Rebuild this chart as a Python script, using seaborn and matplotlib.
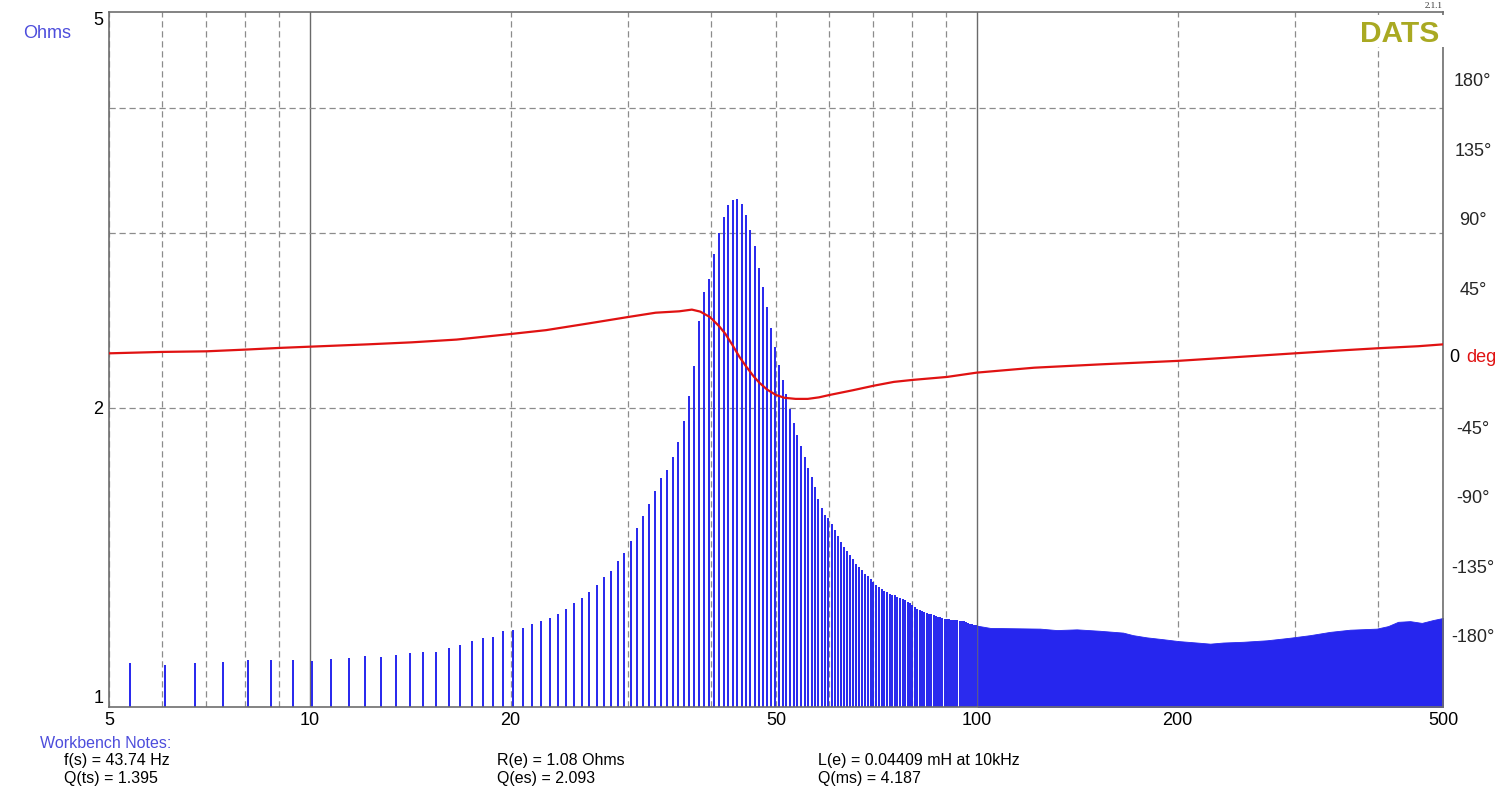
import numpy as np
import matplotlib
matplotlib.use("Agg")
import matplotlib.pyplot as plt
import matplotlib.transforms as mtransforms
import seaborn as sns
from matplotlib.ticker import FixedLocator, FuncFormatter, NullFormatter
from matplotlib.patches import Rectangle

# ---------------- data ----------------
bin_hz = 44100 / 65536            # FFT bin width of the measurement
stem_bins = np.arange(8, 149)     # bins drawn as individual stems (5.4 .. 99.6 Hz)
stem_ohms = [
    1.108, 1.103, 1.108, 1.111, 1.116, 1.116, 1.116, 1.113, 1.118, 1.121,
    1.126, 1.124, 1.129, 1.134, 1.137, 1.137, 1.147, 1.155, 1.166, 1.172,
    1.177, 1.192, 1.195,
    1.201, 1.213, 1.220, 1.228, 1.241, 1.254, 1.271, 1.286, 1.306, 1.327,
    1.351, 1.370, 1.403, 1.430, 1.468, 1.512, 1.557, 1.601, 1.648, 1.698,
    1.732, 1.783, 1.847, 1.938, 2.056, 2.205, 2.443, 2.612, 2.692, 2.855,
    2.998, 3.108, 3.200, 3.238, 3.245, 3.207, 3.126, 3.021, 2.905, 2.766,
    2.647, 2.525, 2.407, 2.302, 2.210, 2.130, 2.062, 1.992, 1.930, 1.877,
    1.829, 1.783, 1.741, 1.702, 1.665, 1.619,
    1.584, 1.560, 1.550, 1.526, 1.505, 1.485, 1.466, 1.449, 1.435, 1.422,
    1.408, 1.394, 1.384, 1.373, 1.362, 1.355, 1.346, 1.336, 1.328, 1.321,
    1.314, 1.309, 1.304, 1.300, 1.297, 1.295, 1.291, 1.288, 1.284, 1.280,
    1.276, 1.272, 1.266, 1.261, 1.256, 1.252, 1.249, 1.245, 1.242, 1.241,
    1.239, 1.237, 1.235, 1.233, 1.231, 1.229, 1.226, 1.225,
    1.225, 1.224, 1.223, 1.223, 1.222, 1.221, 1.220, 1.219, 1.217, 1.215,
    1.213, 1.211, 1.210, 1.208,
]
# above 100 Hz the bins are so dense they form a solid band
dense_hz = [100.3, 104.7, 124.4, 131.8, 141.2, 153.0, 165.7, 171.5, 179.8,
            190.2, 200.4, 213.7, 223.8, 234.1, 250.7, 272.1, 294.9, 315.9,
            338.5, 362.7, 397.8, 413.6, 428.1, 446.3, 464.7, 483.0, 500.0]
dense_ohms = [1.207, 1.201, 1.199, 1.195, 1.197, 1.193, 1.188, 1.181, 1.175,
              1.170, 1.165, 1.161, 1.158, 1.161, 1.163, 1.167, 1.174, 1.181,
              1.190, 1.196, 1.199, 1.206, 1.218, 1.220, 1.215, 1.223, 1.229]

phase_hz = [5.0, 6.0, 7.0, 8.0, 9.0, 10.0, 12.2, 14.2, 16.6, 20.0, 22.6, 26.3,
            30.0, 33.0, 35.8, 37.4, 38.5, 39.8, 41.1, 42.0, 43.0, 44.1, 45.1,
            46.3, 47.2, 48.5, 50.0, 51.5, 53.5, 55.8, 58.0, 60.1, 65.2, 70.2,
            75.1, 80.2, 90.2, 100.0, 122.0, 154.0, 200.0, 246.0, 300.0, 352.0,
            400.0, 459.0, 500.0]
phase_deg = [3.0, 3.9, 4.3, 5.4, 6.5, 7.3, 8.8, 10.1, 11.9, 15.5, 18.0, 22.5,
             26.5, 29.3, 30.2, 31.3, 30.0, 26.5, 20.5, 15.5, 8.5, 0.5, -5.5,
             -12.0, -16.0, -20.5, -24.0, -25.8, -26.5, -26.5, -25.5, -24.0,
             -20.9, -17.9, -15.5, -14.2, -12.3, -9.5, -6.3, -4.1, -1.9, 0.6,
             3.0, 4.9, 6.3, 7.6, 8.8]

x_label_ticks = [5, 10, 20, 50, 100, 200, 500]
x_major_grid = [10, 100]
x_minor_grid = [5, 6, 7, 8, 9, 20, 30, 40, 50, 60, 70, 80, 90, 200, 300, 400, 500]
y_label_ticks = [1, 2, 5]
y_grid = [2, 3, 4]
phase_ticks = [-180, -135, -90, -45, 0, 45, 90, 135, 180]

notes_title = "Workbench Notes:"
notes = [
    ("f(s) = 43.74 Hz", 64, 761), ("Q(ts) = 1.395", 64, 778),
    ("R(e) = 1.08 Ohms", 497, 761), ("Q(es) = 2.093", 497, 778),
    ("L(e) = 0.04409 mH at 10kHz", 818, 761), ("Q(ms) = 4.187", 818, 778),
]

# ---------------- style ----------------
sns.set_style("white")
plt.rcParams["font.family"] = ["Liberation Sans", "DejaVu Sans"]

BLUE = "#2626ee"
RED = "#e01212"
SPINE = "#6e6e6e"
W, H = 1500, 808

fig = plt.figure(figsize=(W / 100, H / 100), dpi=100)
ax = fig.add_axes([109 / W, 1 - 707 / H, 1334 / W, 695 / H])

ax.set_xscale("log")
ax.set_yscale("log")

# impedance stems
stem_hz = stem_bins * bin_hz
ax.vlines(stem_hz, 1, stem_ohms, colors=BLUE, linewidth=1.4, zorder=2)
ax.fill_between(dense_hz, 1, dense_ohms, color=BLUE, linewidth=0.6,
                edgecolor=BLUE, zorder=2)

ax.set_xlim(5, 500)
ax.set_ylim(1, 5)

# x ticks / grid
ax.xaxis.set_major_locator(FixedLocator(x_major_grid))
ax.xaxis.set_minor_locator(FixedLocator(x_minor_grid))
ax.xaxis.set_major_formatter(FuncFormatter(lambda v, p: f"{v:g}"))
ax.xaxis.set_minor_formatter(
    FuncFormatter(lambda v, p: f"{v:g}" if round(v) in x_label_ticks else ""))
# y ticks / grid
ax.yaxis.set_major_locator(FixedLocator(y_label_ticks))
ax.yaxis.set_minor_locator(FixedLocator(y_grid))
ax.yaxis.remove_overlapping_locs = False
ax.yaxis.set_major_formatter(FuncFormatter(lambda v, p: f"{v:g}"))
ax.yaxis.set_minor_formatter(NullFormatter())

ax.set_axisbelow(True)
dash = (0, (5, 3))
ax.grid(False)
ax.grid(which="major", axis="x", linestyle="-", color="#6a6a6a", linewidth=1.0)
ax.grid(which="minor", axis="x", linestyle=dash, color="#8c8c8c", linewidth=0.9)
ax.grid(which="minor", axis="y", linestyle=dash, color="#8c8c8c", linewidth=0.9)

ax.tick_params(which="both", length=0, labelsize=13, colors="black")
ax.tick_params(axis="x", which="both", pad=3.5)
ax.tick_params(axis="y", which="both", pad=4)
for lbl, v in zip(ax.get_yticklabels(), y_label_ticks):
    if v == 5:
        lbl.set_va("top")
    elif v == 1:
        lbl.set_va("bottom")

for s in ax.spines.values():
    s.set_color(SPINE)
    s.set_linewidth(1.2)
    s.set_visible(True)

# phase curve on twin axis
ax2 = ax.twinx()
sns.lineplot(x=phase_hz, y=phase_deg, ax=ax2, color=RED, linewidth=1.6, zorder=5)
ax2.set_ylim(-226, 224)
ax2.set_xlim(5, 500)
ax2.set_ylabel("")
ax.set_xlabel("")
ax2.set_yticks(phase_ticks)
ax2.set_yticklabels([("" if t == 0 else f"{t}°") for t in phase_ticks])
ax2.tick_params(axis="y", length=0, labelsize=13, pad=21.5)
for lbl in ax2.get_yticklabels():
    lbl.set_ha("center")
for s in ax2.spines.values():
    s.set_visible(False)
ax2.grid(False)

blend = mtransforms.blended_transform_factory(ax2.transAxes, ax2.transData)
ax2.text(1 + 6 / 1334, 0, "0", transform=blend, ha="left", va="center",
         fontsize=13, color="black")
ax2.text(1 + 23 / 1334, 0, "deg", transform=blend, ha="left", va="center",
         fontsize=13, color=RED)

# white mask behind the DATS logo (hides the grid and right spine there)
ax.add_patch(Rectangle(((1350 - 109) / 1334, (707 - 47) / 695),
                       (1452 - 1350) / 1334, (47 - 15) / 695,
                       transform=ax.transAxes, facecolor="white",
                       edgecolor="none", zorder=3, clip_on=False))
fig.text(1439 / W, 1 - 41.7 / H, "DATS", ha="right", va="baseline",
         fontsize=21.5, fontweight="bold", color="#a9a922", zorder=6)
fig.text(1443 / W, 1 - 2 / H, "2.1.1", ha="right", va="top", fontsize=6.5,
         family=["Liberation Serif", "DejaVu Serif"], color="#333333")

# left axis unit
fig.text(47 / W, 1 - 33 / H, "Ohms", ha="center", va="center", fontsize=13,
         color="#4d4ddc")

# workbench notes
fig.text(40 / W, 1 - 744 / H, notes_title, ha="left", va="center",
         fontsize=11.5, color="#4d4ddc")
for txt, x, y in notes:
    fig.text(x / W, 1 - y / H, txt, ha="left", va="center", fontsize=11.5,
             color="black")

fig.savefig("out.png", dpi=100, facecolor="white")
